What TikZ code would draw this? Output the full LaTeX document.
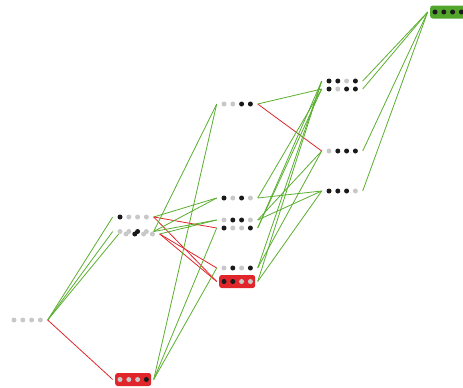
\documentclass[tikz,border=0pt]{standalone}
\definecolor{lg}{HTML}{5AAE2E}
\definecolor{lr}{HTML}{E0262B}
\definecolor{dg}{HTML}{C8C8C8}
\definecolor{dk}{HTML}{1A1A1A}
\definecolor{boxg}{HTML}{52A62B}
\tikzset{
  st/.style={rectangle, minimum width=36pt, minimum height=13pt, inner sep=0pt, outer sep=2.5pt},
  hlred/.style={fill=lr, rounded corners=2.5pt},
  hlgreen/.style={fill=boxg, rounded corners=2.5pt},
  plain/.style={},
  gl/.style={draw=lg, line width=0.8pt},
  rl/.style={draw=lr, line width=0.8pt},
}
\newcommand\stt[8]{%
  \node[st,#8] (#1) at (#2,#3) {};
  \fill[#4] ([xshift=-13.2pt]#1.center) circle (2.5pt);
  \fill[#5] ([xshift=-4.4pt]#1.center) circle (2.5pt);
  \fill[#6] ([xshift=4.4pt]#1.center) circle (2.5pt);
  \fill[#7] ([xshift=13.2pt]#1.center) circle (2.5pt);
}
\begin{document}
\begin{tikzpicture}[x=1pt,y=-1pt]
\useasboundingbox (0,0) rectangle (463,388);
% level 0
\stt{a0000}{27.2}{320}{dg}{dg}{dg}{dg}{plain}
% level 1
\stt{a1000}{133.2}{217}{dk}{dg}{dg}{dg}{plain}
\stt{a0010}{133.2}{231.5}{dg}{dg}{dk}{dg}{plain}
\stt{a0100}{139.2}{234}{dg}{dk}{dg}{dg}{plain}
\stt{a0001}{133.2}{379.5}{dg}{dg}{dg}{dk}{hlred}
% level 2
\stt{b0011}{237.2}{104}{dg}{dg}{dk}{dk}{plain}
\stt{b1010}{237.2}{198}{dk}{dg}{dk}{dg}{plain}
\stt{b0110}{237.2}{220}{dg}{dk}{dk}{dg}{plain}
\stt{b1001}{237.2}{228}{dk}{dg}{dg}{dk}{plain}
\stt{b0101}{237.2}{268}{dg}{dk}{dg}{dk}{plain}
\stt{b1100}{237.2}{281.5}{dk}{dk}{dg}{dg}{hlred}
% level 3
\stt{c1101}{342.2}{81}{dk}{dk}{dg}{dk}{plain}
\stt{c1011}{342.2}{89}{dk}{dg}{dk}{dk}{plain}
\stt{c0111}{342.2}{151}{dg}{dk}{dk}{dk}{plain}
\stt{c1110}{342.2}{191}{dk}{dk}{dk}{dg}{plain}
% level 4
\stt{d1111}{448.2}{12}{dk}{dk}{dk}{dk}{hlgreen}
% edges level 0 -> 1
\draw[gl] (a0000.east) -- (a1000.west);
\draw[gl] (a0000.east) -- (a0010.west);
\draw[gl] (a0000.east) -- (a0100.west);
\draw[rl] (a0000.east) -- (a0001.west);
% level 1 -> 2
\draw[gl] (a1000.east) -- (b1010.west);
\draw[rl] (a1000.east) -- (b1001.west);
\draw[rl] (a1000.east) -- (b1100.west);
\draw[gl] (a0010.east) -- (b0011.west);
\draw[gl] (a0010.east) -- (b1010.west);
\draw[gl] (a0010.east) -- (b0110.west);
\draw[gl] (a0100.east) -- (b0110.west);
\draw[rl] (a0100.east) -- (b0101.west);
\draw[rl] (a0100.east) -- (b1100.west);
\draw[gl] (a0001.east) -- (b0011.west);
\draw[gl] (a0001.east) -- (b1001.west);
\draw[gl] (a0001.east) -- (b0101.west);
% level 2 -> 3
\draw[gl] (b0011.east) -- (c1011.west);
\draw[rl] (b0011.east) -- (c0111.west);
\draw[gl] (b1010.east) -- (c1011.west);
\draw[gl] (b1010.east) -- (c1110.west);
\draw[gl] (b0110.east) -- (c0111.west);
\draw[gl] (b0110.east) -- (c1110.west);
\draw[gl] (b1001.east) -- (c1101.west);
\draw[gl] (b1001.east) -- (c1011.west);
\draw[gl] (b0101.east) -- (c1101.west);
\draw[gl] (b0101.east) -- (c0111.west);
\draw[gl] (b1100.east) -- (c1101.west);
\draw[gl] (b1100.east) -- (c1110.west);
% level 3 -> 4
\draw[gl] (c1101.east) -- (d1111.west);
\draw[gl] (c1011.east) -- (d1111.west);
\draw[gl] (c0111.east) -- (d1111.west);
\draw[gl] (c1110.east) -- (d1111.west);
\end{tikzpicture}
\end{document}
